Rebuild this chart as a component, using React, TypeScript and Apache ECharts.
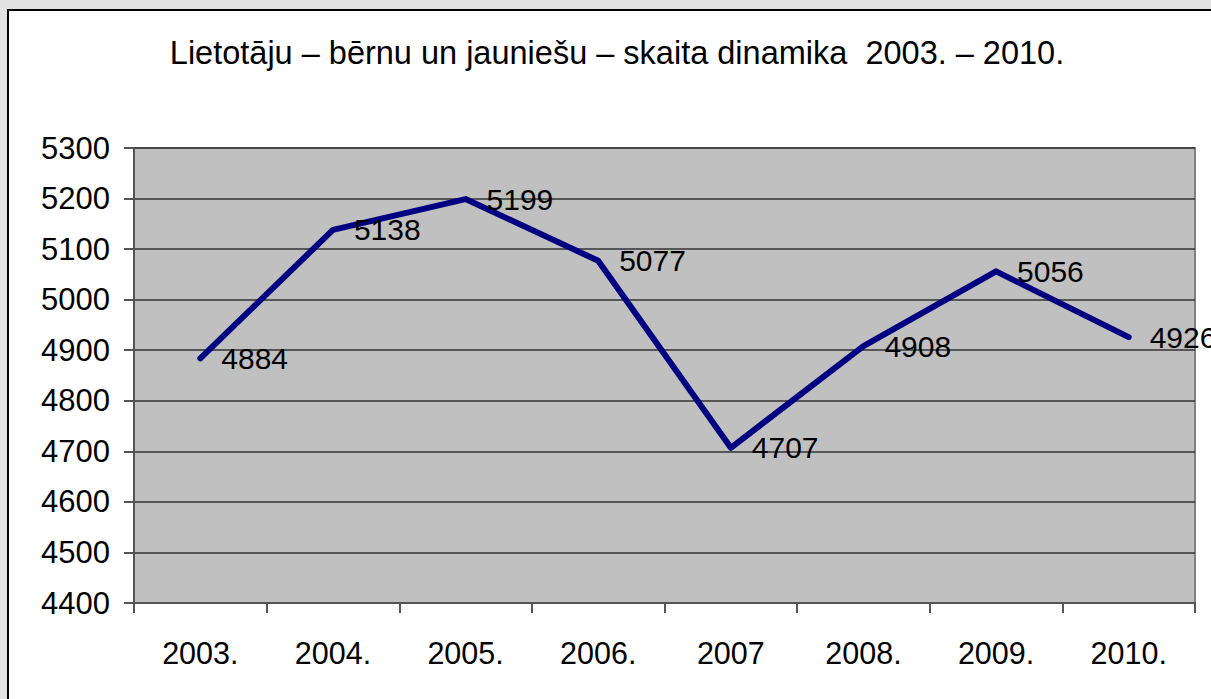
import React, { useEffect, useRef } from "react";
import * as echarts from "echarts";

const TITLE = "Lietotāju – bērnu un jauniešu – skaita dinamika  2003. – 2010.";
const categories = ["2003.", "2004.", "2005.", "2006.", "2007", "2008.", "2009.", "2010."];
const values = [4884, 5138, 5199, 5077, 4707, 4908, 5056, 4926];
const yMin = 4400;
const yMax = 5300;
const yStep = 100;

const FONT = "'Liberation Sans', Arial, sans-serif";

export default function App() {
  const ref = useRef<HTMLDivElement>(null);
  useEffect(() => {
    if (!ref.current) return;
    const chart = echarts.init(ref.current, null, { renderer: "svg" });
    chart.setOption({
      animation: false,
      backgroundColor: "#e2e2e2",
      textStyle: { fontFamily: FONT },
      graphic: [
        {
          type: "rect",
          z: -10,
          silent: true,
          shape: { x: 8, y: 10, width: 1220, height: 700 },
          style: { fill: "#ffffff", stroke: "#000000", lineWidth: 2 },
        },
      ],
      title: {
        text: TITLE,
        left: 612,
        textAlign: "center",
        top: 31,
        textStyle: { fontFamily: FONT, fontSize: 32.5, fontWeight: "normal", color: "#000" },
      },
      grid: {
        left: 134,
        top: 148,
        right: 16,
        bottom: 96,
        show: true,
        backgroundColor: "#c0c0c0",
        borderColor: "#808080",
        borderWidth: 2,
      },
      xAxis: {
        type: "category",
        data: categories,
        boundaryGap: true,
        axisLine: { lineStyle: { color: "#555", width: 2 } },
        axisTick: { show: true, length: 10, inside: false, lineStyle: { color: "#555", width: 2 } },
        axisLabel: { color: "#000", fontSize: 30.5, fontFamily: FONT, margin: 34 },
        splitLine: { show: false },
      },
      yAxis: {
        type: "value",
        min: yMin,
        max: yMax,
        interval: yStep,
        axisLine: { show: true, lineStyle: { color: "#555", width: 2 } },
        axisTick: { show: true, length: 10, inside: false, lineStyle: { color: "#555", width: 2 } },
        axisLabel: {
          color: "#000",
          fontSize: 31,
          fontFamily: FONT,
          margin: 24,
          formatter: (v: number) => String(v),
        },
        splitLine: { show: true, lineStyle: { color: "#333", width: 1.5 } },
      },
      series: [
        {
          type: "line",
          data: values,
          symbol: "circle",
          symbolSize: 2,
          showSymbol: true,
          lineStyle: { color: "#000080", width: 6, join: "round", cap: "round" },
          itemStyle: { color: "#000080" },
          label: {
            show: true,
            position: "right",
            distance: 20,
            color: "#000",
            fontSize: 30,
            fontFamily: FONT,
            formatter: (p: any) => String(p.value),
          },
        },
      ],
    });
    return () => chart.dispose();
  }, []);
  return (
    <div
      ref={ref}
      style={{ position: "fixed", left: 0, top: 0, width: 1211, height: 699 }}
    />
  );
}
